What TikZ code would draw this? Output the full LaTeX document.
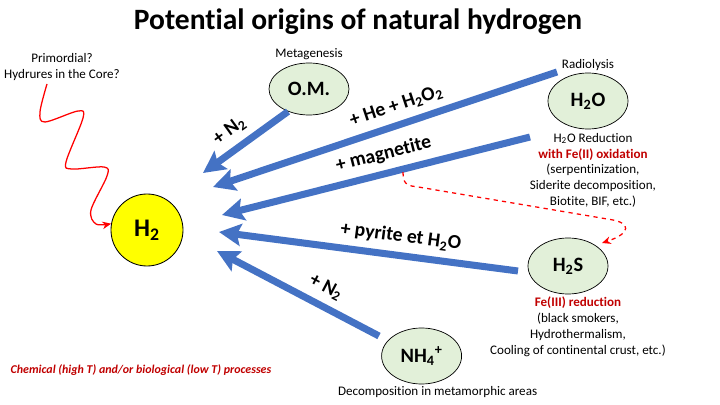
\documentclass[tikz,border=0pt]{standalone}
\usepackage{fontspec}
\setmainfont{Carlito}[Ligatures=NoCommon]
\usetikzlibrary{arrows.meta,positioning,shapes.geometric}
\definecolor{flowblue}{HTML}{4472C4}
\definecolor{speciesfill}{HTML}{E2F0D9}
\definecolor{hydroyellow}{HTML}{FFFF00}
\definecolor{notered}{HTML}{C00000}
\definecolor{linkred}{HTML}{FF0000}
\tikzset{
  >={Stealth[length=2.2mm,width=1.9mm]},
  species/.style={
    ellipse,
    draw=black,
    line width=0.5pt,
    fill=speciesfill,
    minimum width=2.0cm,
    minimum height=1.4cm,
    inner sep=0pt,
    font=\fontsize{14.5}{16}\selectfont\bfseries,
  },
  hydrogen/.style={circle, draw=black, line width=0.6pt, fill=hydroyellow,
    minimum size=1.8cm, inner sep=0pt, font=\fontsize{18}{20}\selectfont\bfseries},
  note/.style={font=\fontsize{9.3}{11.3}\selectfont, align=center, inner sep=1pt},
  flow/.style={draw=flowblue, line width=5pt, -{Stealth[length=5.5mm,width=5.5mm,inset=1mm]}},
  flowlabel/.style={font=\fontsize{14}{16}\selectfont\bfseries, sloped, above=3pt, inner sep=2pt},
  wavy/.style={draw=linkred, line width=0.9pt, ->},
  hint/.style={draw=linkred, line width=0.9pt, dashed, ->},
}

\begin{document}
\begin{tikzpicture}
  \useasboundingbox (0,0) rectangle (18,10.125);

  \node[font=\fontsize{21}{24}\selectfont\bfseries] (title) at (8.95,9.575) {Potential origins of natural hydrogen};

  \node[hydrogen] (h2) at (3.675,4.375) {H\textsubscript{2}};
  \node[species, minimum height=1.3cm] (om) at (7.725,7.9) {O.M.};
  \node[species] (h2o) at (14.7,7.6) {H\textsubscript{2}O};
  \node[species] (h2s) at (14.2,3.475) {H\textsubscript{2}S};
  \node[species] (nh4) at (10.54,1.225) {NH\textsubscript{4}\textsuperscript{+}};

  \node[note, above=1pt of om] (metagen) {Metagenesis};
  \node[note, above=0pt of h2o] (radiol) {Radiolysis};
  \node[note, below=1.5pt of h2o, xshift=0.125cm] (h2onote)
    {H\textsubscript{2}O Reduction\\\textcolor{notered}{\textbf{with Fe(II) oxidation}}\\(serpentinization,\\Siderite decomposition,\\Biotite, BIF, etc.)};
  \node[note, below=0.5pt of h2s, xshift=0.25cm] (h2snote)
    {\textcolor{notered}{\textbf{Fe(III) reduction}}\\(black smokers,\\Hydrothermalism,\\Cooling of continental crust, etc.)};
  \node[note, below=0.5pt of nh4, xshift=0.4cm] (nh4note) {Decomposition in metamorphic areas};
  \node[note] (prim) at (1.55,8.44) {Primordial?\\Hydrures in the Core?};
  \node[font=\fontsize{8.5}{10}\selectfont\bfseries\itshape, text=notered] (procnote) at (3.525,0.875)
    {Chemical (high T) and/or biological (low T) processes};

  % blue reaction arrows
  \coordinate (t1) at (5.075,5.8);
  \coordinate (s2) at (13.925,8.325);
  \coordinate (t2) at (5.325,5.45);
  \coordinate (s3) at (13.25,6.7);
  \coordinate (t3) at (5.55,4.75);
  \coordinate (s4) at (12.95,3.35);
  \coordinate (t4) at (5.475,4.325);
  \coordinate (s5) at (9.475,1.725);
  \coordinate (t5) at (5.425,3.85);

  \draw[flow] (om.227) -- node[flowlabel, pos=0.56] {+ N\textsubscript{2}} (t1);
  \draw[flow] (s2) -- node[flowlabel, pos=0.45] {+ He + H\textsubscript{2}O\textsubscript{2}} (t2);
  \draw[flow] (s3) -- node[flowlabel, pos=0.46] {+ magnetite} (t3);
  \draw[flow] (s4) -- node[flowlabel, pos=0.40] {+ pyrite et H\textsubscript{2}O} (t4);
  \draw[flow] (s5) -- node[flowlabel, pos=0.38] {+ N\textsubscript{2}} (t5);

  % red links
  \coordinate (wv) at (1.175,8.025);
  \draw[wavy] plot[smooth, tension=0.55] coordinates {(wv) (1.0,7.325) (1.125,7.075) (1.95,7.35) (2.075,7.175)
    (1.65,6.075) (1.8,5.9) (2.6,5.95) (2.675,5.725) (2.275,4.875) (2.4,4.525) (h2.170)};

  \coordinate (dstart) at (10.075,5.82);
  \coordinate (dend) at (15.05,4.05);
  \draw[hint] (dstart) .. controls (10.08,5.55) and (10.15,5.48) .. (10.4,5.46) -- (15.3,4.63)
    .. controls (15.75,4.55) and (15.8,4.3) .. (dend);
\end{tikzpicture}
\end{document}
